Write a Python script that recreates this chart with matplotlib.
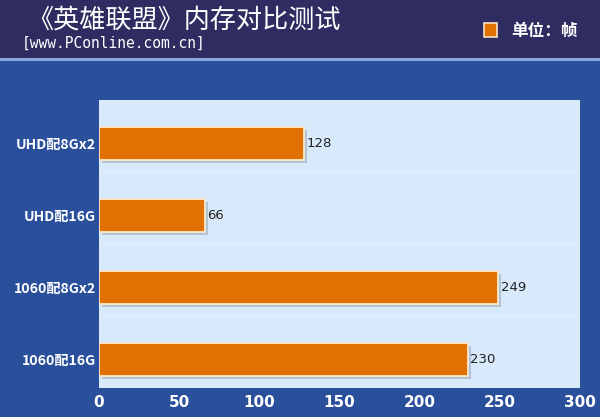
import numpy as np
import matplotlib
matplotlib.use("Agg")
import matplotlib.pyplot as plt
import matplotlib.patheffects as pe
from matplotlib.patches import Rectangle

plt.rcParams['font.family'] = ['Noto Sans CJK SC', 'DejaVu Sans']

# data
categories = ["UHD配8Gx2", "UHD配16G", "1060配8Gx2", "1060配16G"]
fps = [128, 66, 249, 230]
xticks = [0, 50, 100, 150, 200, 250, 300]

TITLE = "《英雄联盟》内存对比测试"
SUBTITLE = "[www.PConline.com.cn]"
UNIT = "单位：帧"

NAVY = "#2f2c61"
BLUE = "#2a4f9b"
STRIPE = "#86a8dc"
PANEL = "#d8e9fb"
ORANGE = "#e07102"

fig = plt.figure(figsize=(6.0, 4.17), dpi=100, facecolor=BLUE)

# header band + thin light stripe under it
fig.patches.append(Rectangle((0, 1 - 58 / 417), 1, 58 / 417, transform=fig.transFigure,
                             facecolor=NAVY, edgecolor="none", zorder=0))
fig.patches.append(Rectangle((0, 1 - 61 / 417), 1, 3 / 417, transform=fig.transFigure,
                             facecolor=STRIPE, edgecolor="none", zorder=0))

fig.text(27 / 600, 1 - 20 / 417, TITLE, color="white", fontsize=18.8, va="center", ha="left",
         fontweight="medium")
fig.text(22 / 600, 1 - 43 / 417, SUBTITLE, color="white", fontsize=10.5, va="center", ha="left",
         family="DejaVu Sans Mono")

# legend swatch and unit text
fig.patches.append(Rectangle((484 / 600, 1 - 37 / 417), 13 / 600, 14 / 417, transform=fig.transFigure,
                             facecolor=ORANGE, edgecolor="#fbe3c5", linewidth=1.2, zorder=2))
fig.text(511 / 600, 1 - 31 / 417, UNIT, color="white", fontsize=12, va="center", ha="left",
         fontweight="bold")

ax = fig.add_axes([99 / 600, 1 - 388 / 417, 481 / 600, 288 / 417])
ax.set_facecolor(PANEL)

ypos = np.arange(len(categories))
bars = ax.barh(ypos, fps, height=0.46, color=ORANGE, edgecolor="#fde9cf", linewidth=1.3, zorder=3)
for b in bars:
    b.set_path_effects([pe.SimplePatchShadow(offset=(2, -2), shadow_rgbFace="#9aa8b8", alpha=0.6),
                        pe.Normal()])

for y, v in zip(ypos, fps):
    ax.text(v + 1.5, y, str(v), va="center", ha="left", fontsize=9.5, color="#222222",
            family="DejaVu Sans", zorder=4)

# faint separators between the category bands
for g in ypos[:-1] + 0.4:
    ax.axhline(g, color="#e6f0fc", linewidth=1.0, zorder=1)

ax.set_xlim(0, 300)
ax.set_ylim(len(categories) - 0.604, -0.604)
ax.set_xticks(xticks)
ax.set_xticklabels([str(t) for t in xticks], color="white", fontsize=11, fontweight="bold",
                   family="DejaVu Sans")
ax.set_yticks(ypos)
ax.set_yticklabels(categories, color="white", fontsize=10.2, fontweight="bold")
ax.tick_params(length=0, pad=2)
ax.tick_params(axis="x", pad=5)
for s in ax.spines.values():
    s.set_visible(False)

fig.savefig("out.png", dpi=100, facecolor=BLUE)
